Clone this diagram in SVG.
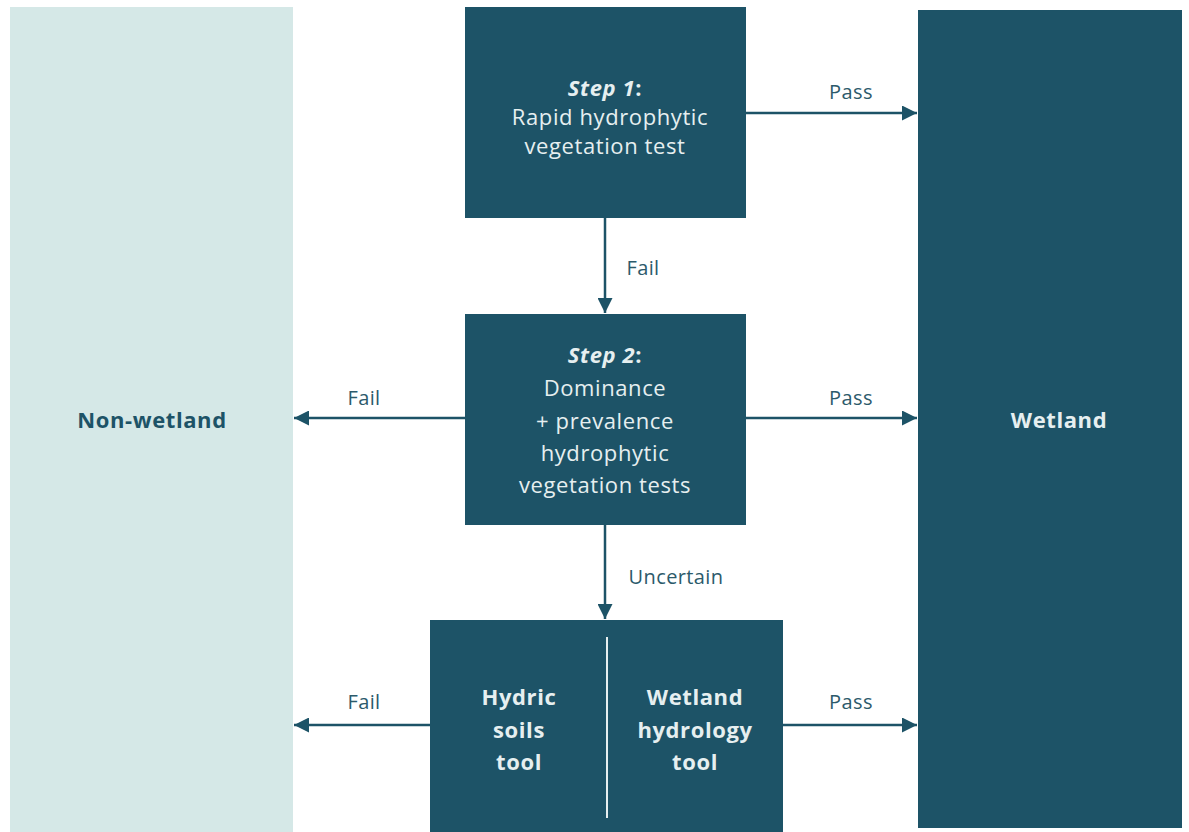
<svg xmlns="http://www.w3.org/2000/svg" width="1189" height="832" viewBox="0 0 1189 832">
<style>
.box{fill:#1d5367}
.t{font-family:"Open Sans","Liberation Sans",sans-serif;font-size:22px;letter-spacing:0.6px;fill:#e6eff0;text-anchor:middle}
.b{font-weight:bold}
.lbl{font-family:"Open Sans","Liberation Sans",sans-serif;font-size:20px;letter-spacing:0.4px;fill:#2c5a6b;text-anchor:middle}
.c{stroke:#1d5367;stroke-width:2.5;fill:none;marker-end:url(#ah)}
</style>
<defs>
<marker id="ah" viewBox="0 0 10 10" refX="10" refY="5" markerWidth="6" markerHeight="6" markerUnits="strokeWidth" orient="auto">
<path d="M0,0 L10,5 L0,10 z" fill="#1d5367"/>
</marker>
</defs>
<rect width="1189" height="832" fill="#ffffff"/>
<g id="non-wetland">
<rect x="10" y="7" width="283" height="825" fill="#d5e8e7"/>
<text x="152" y="428" class="t b" style="fill:#1d5367">Non-wetland</text>
</g>
<g id="wetland">
<rect x="918" y="10" width="264" height="818" class="box"/>
<text x="1059" y="428" class="t b">Wetland</text>
</g>
<g id="step1">
<rect x="465" y="7" width="281" height="211" class="box"/>
<text x="605" y="96" class="t"><tspan class="b" font-style="italic">Step 1</tspan><tspan class="b">:</tspan></text>
<text x="610" y="125" class="t">Rapid hydrophytic</text>
<text x="605" y="154" class="t">vegetation test</text>
</g>
<g id="step2">
<rect x="465" y="314" width="281" height="211" class="box"/>
<text x="605" y="363" class="t"><tspan class="b" font-style="italic">Step 2</tspan><tspan class="b">:</tspan></text>
<text x="605" y="396" class="t">Dominance</text>
<text x="605" y="429" class="t">+ prevalence</text>
<text x="605" y="461" class="t">hydrophytic</text>
<text x="605" y="493" class="t">vegetation tests</text>
</g>
<g id="tools">
<rect x="430" y="620" width="353" height="212" class="box"/>
<line x1="607" y1="637" x2="607" y2="818" stroke="#e6eff0" stroke-width="2"/>
<text x="519" y="705" class="t b">Hydric</text>
<text x="519" y="738" class="t b">soils</text>
<text x="519" y="770" class="t b">tool</text>
<text x="695" y="705" class="t b">Wetland</text>
<text x="695" y="738" class="t b">hydrology</text>
<text x="695" y="770" class="t b">tool</text>
</g>
<g id="connectors">
<path class="c" d="M746,113 H917"/>
<path class="c" d="M605,218 V313"/>
<path class="c" d="M465,418 H294"/>
<path class="c" d="M746,418 H917"/>
<path class="c" d="M605,525 V619"/>
<path class="c" d="M430,725 H294"/>
<path class="c" d="M783,725 H917"/>
<text x="851" y="99" class="lbl">Pass</text>
<text x="643" y="275" class="lbl">Fail</text>
<text x="364" y="405" class="lbl">Fail</text>
<text x="851" y="405" class="lbl">Pass</text>
<text x="676" y="584" class="lbl">Uncertain</text>
<text x="364" y="709" class="lbl">Fail</text>
<text x="851" y="709" class="lbl">Pass</text>
</g>
</svg>
